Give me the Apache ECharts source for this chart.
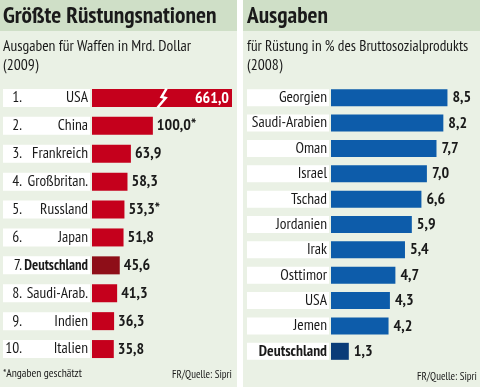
<!DOCTYPE html>
<html><head><meta charset="utf-8">
<script src="https://cdn.jsdelivr.net/npm/echarts@6/dist/echarts.min.js"></script>
<style>html,body{margin:0;padding:0;background:#fff}#c{width:480px;height:387px}</style>
</head><body><div id="c"></div>
<script>
// ---- data ----
const leftCountries = ['USA','China','Frankreich','Großbritan.','Russland','Japan','Deutschland','Saudi-Arab.','Indien','Italien'];
const leftValues = [661.0,100.0,63.9,58.3,53.3,51.8,45.6,41.3,36.3,35.8];
const leftEstimated = [false,true,false,false,true,false,false,false,false,false];
const rightCountries = ['Georgien','Saudi-Arabien','Oman','Israel','Tschad','Jordanien','Irak','Osttimor','USA','Jemen','Deutschland'];
const rightValues = [8.5,8.2,7.7,7.0,6.6,5.9,5.4,4.7,4.3,4.2,1.3];
const highlight = 'Deutschland';
const leftBreak = {start:125, end:556, gap:0};
const zigzagAt = [[116, 'USA']];

// ---- style ----
const F = '"PT Sans Narrow","Roboto Condensed","Liberation Sans",sans-serif';
const C = {hdr:'#cfdfc7', body:'#eaf1e5', red:'#c5001c', redDark:'#8e0e18', blue:'#0d5caa', blueDark:'#0a3c78', text:'#1a1a1a'};
const fmt = v => v.toFixed(1).replace('.', ',');
const mctx = document.createElement('canvas').getContext('2d');
function fit(s, weight, target){
  mctx.font = weight + ' 100px ' + F;
  return Math.round(100 * target / mctx.measureText(s).width * 10) / 10;
}
const S = {
  titleL: fit('Größte Rüstungsnationen', 'bold', 214),
  titleR: fit('Ausgaben', 'bold', 81),
  subL: fit('Ausgaben für Waffen in Mrd. Dollar', 'normal', 188),
  subR: fit('für Rüstung in % des Bruttosozialprodukts', 'normal', 222),
  cat: fit('Saudi-Arabien', 'normal', 75),
  boldL: fit('Deutschland', 'bold', 64),
  boldR: fit('Deutschland', 'bold', 68),
  val: fit('661,0', 'bold', 34),
  foot: fit('*Angaben geschätzt', 'normal', 79),
  src: fit('FR/Quelle: Sipri', 'normal', 60)
};

function txt(x, y, s, size, weight, align){
  return {type:'text', silent:true, style:{x:x, y:y, text:s, fill:C.text,
    font:(weight||'normal')+' '+size+'px '+F, fontFamily:F, fontSize:size, fontWeight:weight||'normal',
    textAlign:align||'left', align:align||'left', textVerticalAlign:'middle', verticalAlign:'middle'}};
}

const chart = echarts.init(document.getElementById('c'), null, {renderer:'canvas'});
const option = {
  animation:false,
  backgroundColor:'#fff',
  graphic:[
    {type:'rect', silent:true, z:-10, shape:{x:0,y:0,width:237,height:31}, style:{fill:C.hdr}},
    {type:'rect', silent:true, z:-10, shape:{x:0,y:31,width:237,height:356}, style:{fill:C.body}},
    {type:'rect', silent:true, z:-10, shape:{x:243,y:0,width:237,height:31}, style:{fill:C.hdr}},
    {type:'rect', silent:true, z:-10, shape:{x:243,y:31,width:237,height:356}, style:{fill:C.body}},
    txt(3, 16.5, 'Größte Rüstungsnationen', S.titleL, 'bold'),
    txt(3, 47, 'Ausgaben für Waffen in Mrd. Dollar', S.subL),
    txt(3, 65.5, '(2009)', S.subL),
    txt(247, 16.5, 'Ausgaben', S.titleR, 'bold'),
    txt(247, 47, 'für Rüstung in % des Bruttosozialprodukts', S.subR),
    txt(247, 65.5, '(2008)', S.subL),
    txt(3, 373.5, '*Angaben geschätzt', S.foot),
    txt(232, 374.5, 'FR/Quelle: Sipri', S.src, 'normal', 'right'),
    txt(477, 377, 'FR/Quelle: Sipri', S.src, 'normal', 'right')
  ],
  grid:[
    {left:92, top:84, width:140, height:279},
    {left:331, top:85, width:137, height:279}
  ],
  xAxis:[
    {gridIndex:0, type:'value', min:0, max:661, show:false, breaks:[leftBreak], breakArea:{show:false}},
    {gridIndex:1, type:'value', min:0, max:10, show:false}
  ],
  yAxis:[
    {gridIndex:0, type:'category', data:leftCountries, inverse:true,
      axisLine:{show:false}, axisTick:{show:false}, splitLine:{show:false},
      axisLabel:{margin:2, backgroundColor:'#fff', padding:[0,2,0,0], lineHeight:18,
        formatter:(v,i)=> '{r|'+(i+1)+'.}' + (v===highlight ? '{b|'+v+'}' : '{n|'+v+'}'),
        rich:{
          r:{width:19, align:'right', fontFamily:F, fontSize:S.cat, lineHeight:18, color:C.text},
          n:{width:66, align:'right', fontFamily:F, fontSize:S.cat, lineHeight:18, color:C.text},
          b:{width:66, align:'right', fontFamily:F, fontSize:S.boldL, lineHeight:18, color:C.text, fontWeight:'bold'}
        }}},
    {gridIndex:1, type:'category', data:rightCountries, inverse:true,
      axisLine:{show:false}, axisTick:{show:false}, splitLine:{show:false},
      axisLabel:{margin:2, backgroundColor:'#fff', padding:[0,2,0,0], lineHeight:17,
        formatter:v=> v===highlight ? '{b|'+v+'}' : '{n|'+v+'}',
        rich:{
          n:{width:80, align:'right', fontFamily:F, fontSize:S.cat, lineHeight:17, color:C.text},
          b:{width:80, align:'right', fontFamily:F, fontSize:S.boldR, lineHeight:17, color:C.text, fontWeight:'bold'}
        }}}
  ],
  series:[
    {type:'bar', xAxisIndex:0, yAxisIndex:0, barWidth:18, z:2,
      data:leftValues.map((v,i)=>{
        const d = {value:v, itemStyle:{color: leftCountries[i]===highlight ? C.redDark : C.red}};
        if (i===0) d.label = {position:'insideRight', color:'#fff', distance:3};
        return d;
      }),
      label:{show:true, position:'right', distance:4, fontFamily:F, fontWeight:'bold', fontSize:S.val, color:C.text,
        formatter:p=> fmt(p.value) + (leftEstimated[p.dataIndex] ? '*' : '')}},
    {type:'custom', xAxisIndex:0, yAxisIndex:0, z:5, silent:true,
      data:zigzagAt,
      renderItem:(params, api)=>{
        const p = api.coord([api.value(0), api.value(1)]);
        return {type:'polyline', shape:{points:[[p[0]+4,p[1]-9.5],[p[0]-1,p[1]-1],[p[0]+3,p[1]],[p[0]-5,p[1]+9.5]]},
          style:{stroke:'#fff', lineWidth:2.5, fill:null}};
      }},
    {type:'bar', xAxisIndex:1, yAxisIndex:1, barWidth:17, z:2,
      data:rightValues.map((v,i)=>({value:v, itemStyle:{color: rightCountries[i]===highlight ? C.blueDark : C.blue}})),
      label:{show:true, position:'right', distance:5, fontFamily:F, fontWeight:'bold', fontSize:S.val, color:C.text,
        formatter:p=> fmt(p.value)}}
  ]
};
chart.setOption(option);
</script></body></html>
